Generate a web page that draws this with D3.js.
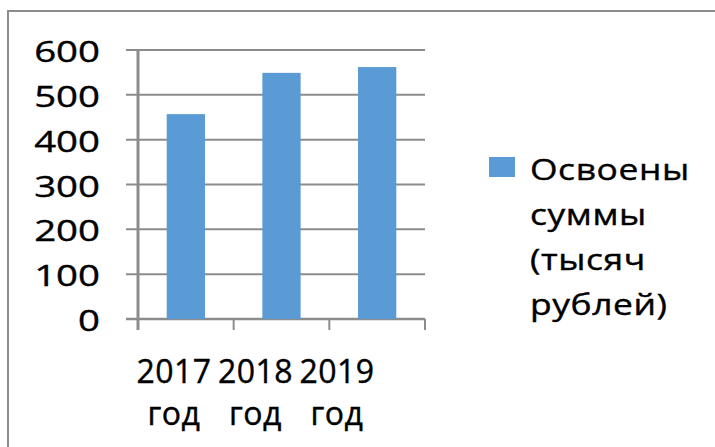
<!DOCTYPE html>
<html>
<head>
<meta charset="utf-8">
<script src="https://cdn.jsdelivr.net/npm/d3@7"></script>
<style>
  body { margin: 0; background: #fff; }
  text { font-family: "Open Sans", sans-serif; fill: #000; stroke: #000; stroke-width: 0.4px; }
</style>
</head>
<body>
<script>
let years = ["2017", "2018", "2019"]
let yearWord = "год"
let values = [457, 549, 562]
let yTicks = [0, 100, 200, 300, 400, 500, 600]
let seriesName = ["Освоены", "суммы", "(тысяч", "рублей)"]

let width = 715
let height = 447
let gridColor = "#8c8c8c"
let barColor = "#5b9bd5"

let svg = d3.select("body").append("svg")
    .attr("width", width)
    .attr("height", height)

// outer frame (left + top only visible)
svg.append("path")
    .attr("d", "M8," + height + "V11H" + width)
    .attr("fill", "none")
    .attr("stroke", gridColor)
    .attr("stroke-width", 2)

let x = d3.scaleBand().domain(years).range([138, 425])
    .paddingInner(0.6).paddingOuter(0.3)
let y = d3.scaleLinear().domain([0, 600]).range([319, 50])
// category labels sit a bit left of the band centres
let xLabel = d3.scalePoint().domain(years).range([174, 337])

// gridlines
svg.selectAll(".grid").data(yTicks).enter().append("line")
    .attr("class", "grid")
    .attr("x1", 126).attr("x2", 425)
    .attr("y1", d => y(d)).attr("y2", d => y(d))
    .attr("stroke", gridColor)
    .attr("stroke-width", d => d === 0 ? 2.5 : 2)

// y axis line
svg.append("line")
    .attr("x1", x.range()[0]).attr("x2", x.range()[0])
    .attr("y1", y(600)).attr("y2", 330)
    .attr("stroke", gridColor)
    .attr("stroke-width", 3)

// category ticks
let bounds = years.map(d => x(d) - x.step() * x.paddingOuter())
bounds.push(x.range()[1])
svg.selectAll(".xtick").data(bounds.slice(1)).enter().append("line")
    .attr("class", "xtick")
    .attr("x1", d => d).attr("x2", d => d)
    .attr("y1", y(0)).attr("y2", 330)
    .attr("stroke", gridColor)
    .attr("stroke-width", 2)

// bars
svg.selectAll(".bar").data(values).enter().append("rect")
    .attr("class", "bar")
    .attr("x", (d, i) => x(years[i]))
    .attr("width", x.bandwidth())
    .attr("y", d => y(d))
    .attr("height", d => y(0) - y(d))
    .attr("fill", barColor)

// y labels (the original font is stretched wide)
svg.selectAll(".ylab").data(yTicks).enter().append("text")
    .attr("class", "ylab")
    .attr("transform", d => "translate(100," + (y(d) + 12) + ") scale(1.28,1)")
    .attr("text-anchor", "end")
    .style("font-size", "30px")
    .text(d => d)

// x labels
let xl = svg.selectAll(".xlab").data(years).enter().append("text")
    .attr("class", "xlab")
    .attr("text-anchor", "middle")
    .style("font-size", "32px")
    .style("letter-spacing", "0.5px")
xl.append("tspan").attr("x", d => xLabel(d)).attr("y", 383).text(d => d)
xl.append("tspan").attr("x", d => xLabel(d)).attr("y", 425).text(yearWord)

// legend
svg.append("rect")
    .attr("x", 489).attr("y", 157)
    .attr("width", 26).attr("height", 20)
    .attr("fill", barColor)

svg.append("text")
    .attr("transform", "translate(530,0) scale(1.18,1)")
    .style("font-size", "30px")
    .style("letter-spacing", "0.5px")
    .selectAll("tspan").data(seriesName).enter().append("tspan")
    .attr("x", 0)
    .attr("y", (d, i) => 180 + i * 45)
    .text(d => d)
</script>
</body>
</html>
